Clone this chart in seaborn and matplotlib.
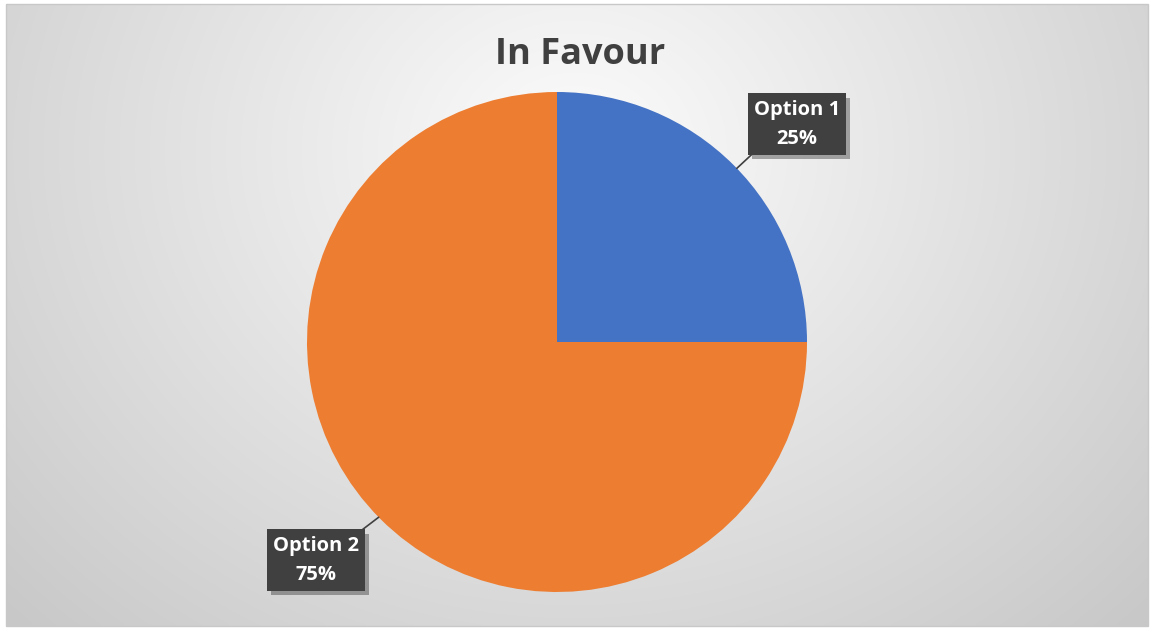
import numpy as np
import matplotlib
matplotlib.use("Agg")
import matplotlib.pyplot as plt
import matplotlib.patheffects as pe
import seaborn as sns

# Chart data
categories = ["Option 1", "Option 2"]
shares = [25, 75]
slice_colors = ["#4472C4", "#ED7D31"]
title = "In Favour"

sns.set_theme(style="white")
plt.rcParams["font.family"] = ["Open Sans", "DejaVu Sans"]

W, H = 1153, 630
fig = plt.figure(figsize=(W / 100, H / 100), dpi=100)
fig.patch.set_facecolor("white")

# Chart-area background: soft radial gradient, light in the upper middle
x0, y0, x1, y1 = 6, 4, 1148, 626
bg = fig.add_axes([x0 / W, 1 - y1 / H, (x1 - x0) / W, (y1 - y0) / H])
gx, gy = np.meshgrid(np.linspace(x0, x1, 400), np.linspace(y0, y1, 220))
d = np.sqrt(((gx - 575) / 700) ** 2 + ((gy - 150) / 600) ** 2)
shade = np.clip(252 - 46 * d, 200, 252) / 255
bg.imshow(np.dstack([shade, shade, shade]), aspect="auto", extent=[0, 1, 0, 1],
          interpolation="bilinear")
bg.set_axis_off()
border = plt.Rectangle((x0 / W, 1 - y1 / H), (x1 - x0) / W, (y1 - y0) / H,
                       transform=fig.transFigure, fill=False,
                       edgecolor="#c8c8c8", linewidth=1)
fig.add_artist(border)

# Pie axes: centre (557, 342), radius 250 px
cx, cy, r = 557, 342, 250
pad = 1.6
ax = fig.add_axes([(cx - r * pad) / W, 1 - (cy + r * pad) / H,
                   2 * r * pad / W, 2 * r * pad / H])
ax.set_facecolor("none")
wedges, _ = ax.pie(shares, colors=slice_colors, startangle=90, counterclock=False,
                   radius=1, wedgeprops=dict(linewidth=0))
ax.set_xlim(-pad, pad)
ax.set_ylim(-pad, pad)
ax.set_aspect("equal")
ax.set_axis_off()

fig.text(580 / W, 1 - 55 / H, title, ha="center", va="center",
         fontsize=26, fontweight="bold", color="#404040")

# Data labels with leader lines
label_pos = [(0.96, 0.872), (-0.964, -0.872)]
edge_ang = [44.0, 224.5]
for name, val, (lx, ly), ang in zip(categories, shares, label_pos, edge_ang):
    ex, ey = np.cos(np.radians(ang)), np.sin(np.radians(ang))
    ann = ax.annotate(f"{name}\n{val}%", xy=(ex, ey), xytext=(lx, ly),
                      ha="center", va="center", fontsize=14.5, fontweight="bold",
                      color="white", linespacing=1.6,
                      bbox=dict(boxstyle="square,pad=0.3", fc="#404040", ec="none"),
                      arrowprops=dict(arrowstyle="-", color="#404040", lw=1.2,
                                      shrinkA=0, shrinkB=0,
                                      relpos=(0.05, 0.0) if ang < 90 else (0.95, 1.0)))
    ann.get_bbox_patch().set_path_effects(
        [pe.SimplePatchShadow(offset=(3, -3), alpha=0.35), pe.Normal()])

fig.savefig("out.png", dpi=100, facecolor="white")
